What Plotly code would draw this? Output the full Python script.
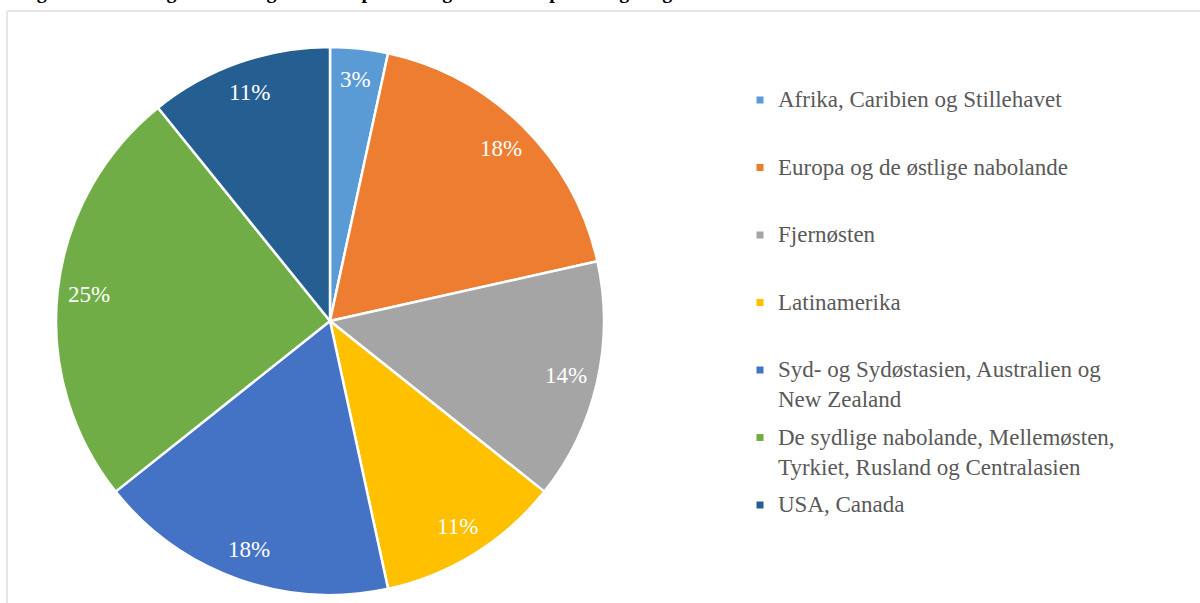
import math
import plotly.graph_objects as go

# ---- data ----
categories = [
    "Afrika, Caribien og Stillehavet",
    "Europa og de østlige nabolande",
    "Fjernøsten",
    "Latinamerika",
    "Syd- og Sydøstasien, Australien og New Zealand",
    "De sydlige nabolande, Mellemøsten, Tyrkiet, Rusland og Centralasien",
    "USA, Canada",
]
legend_labels = [
    "Afrika, Caribien og Stillehavet",
    "Europa og de østlige nabolande",
    "Fjernøsten",
    "Latinamerika",
    "Syd- og Sydøstasien, Australien og<br>New Zealand",
    "De sydlige nabolande, Mellemøsten,<br>Tyrkiet, Rusland og Centralasien",
    "USA, Canada",
]
shares = [3.4, 18.1, 14.2, 10.9, 17.7, 24.9, 10.8]
colors = ["#5B9BD5", "#ED7D31", "#A5A5A5", "#FFC000", "#4472C4", "#70AD47", "#255E91"]
title_text = "Figur 4: Fordeling af bevillinger fordelt på modtagerlandenes placering i regioner"

# ---- layout constants ----
W, H = 1200, 603
CX, CY, R = 330, 321, 274          # pie centre / radius in pixels
LEG_X_MARK, LEG_X_TEXT = 760, 776
LEG_Y0, LEG_PITCH = 100, 67.5
SERIF = "Liberation Serif, Times New Roman, serif"

dom_x = [(CX - R) / W, (CX + R) / W]
dom_y = [1 - (CY + R) / H, 1 - (CY - R) / H]

fig = go.Figure(go.Pie(
    labels=categories,
    values=shares,
    sort=False,
    direction="clockwise",
    rotation=0,
    marker=dict(colors=colors, line=dict(color="white", width=2.5)),
    textinfo="none",
    hoverinfo="label+percent",
    showlegend=False,
    domain=dict(x=dom_x, y=dom_y),
))

annotations = []
shapes = []

# percentage labels, placed along each slice's mid-angle
total = sum(shares)
cum = 0.0
for v in shares:
    mid = (cum + v / 2) / total * 2 * math.pi
    cum += v
    px = CX + 0.885 * R * math.sin(mid)
    py = CY - 0.885 * R * math.cos(mid)
    annotations.append(dict(
        x=px / W, y=1 - py / H, xref="paper", yref="paper",
        text=f"{round(v / total * 100)}%", showarrow=False,
        xanchor="center", yanchor="middle",
        font=dict(family=SERIF, size=23, color="white"),
    ))

# legend (evenly pitched like the original)
for i, (lab, col) in enumerate(zip(legend_labels, colors)):
    y = LEG_Y0 + i * LEG_PITCH
    shapes.append(dict(type="rect", xref="paper", yref="paper",
                       x0=(LEG_X_MARK - 3.5) / W, x1=(LEG_X_MARK + 3.5) / W,
                       y0=1 - (y + 3.5) / H, y1=1 - (y - 3.5) / H,
                       fillcolor=col, line=dict(width=0)))
    annotations.append(dict(
        x=LEG_X_TEXT / W, y=1 - (y - 15) / H, xref="paper", yref="paper",
        text=lab, showarrow=False, align="left",
        xanchor="left", yanchor="top",
        font=dict(family=SERIF, size=23, color="#595959"),
    ))

# cut-off title at very top (only the descenders show, as in the original)
annotations.append(dict(
    x=17 / W, y=1, xref="paper", yref="paper", yshift=-5,
    text=f"<b>{title_text}</b>", showarrow=False,
    xanchor="left", yanchor="bottom",
    font=dict(family=SERIF, size=20, color="black"),
))

# card border (top and left)
shapes.append(dict(type="line", xref="paper", yref="paper",
                   x0=7 / W, x1=1, y0=1 - 11 / H, y1=1 - 11 / H,
                   line=dict(color="#e6e6e6", width=2)))
shapes.append(dict(type="line", xref="paper", yref="paper",
                   x0=7 / W, x1=7 / W, y0=0, y1=1 - 11 / H,
                   line=dict(color="#e6e6e6", width=2)))

fig.update_layout(
    width=W, height=H,
    margin=dict(l=0, r=0, t=0, b=0),
    paper_bgcolor="white", plot_bgcolor="white",
    annotations=annotations, shapes=shapes,
)

fig.write_html(
    "out.html",
    config={"displayModeBar": False},
    post_script="document.body.style.margin='0';document.body.style.overflow='hidden';",
)
